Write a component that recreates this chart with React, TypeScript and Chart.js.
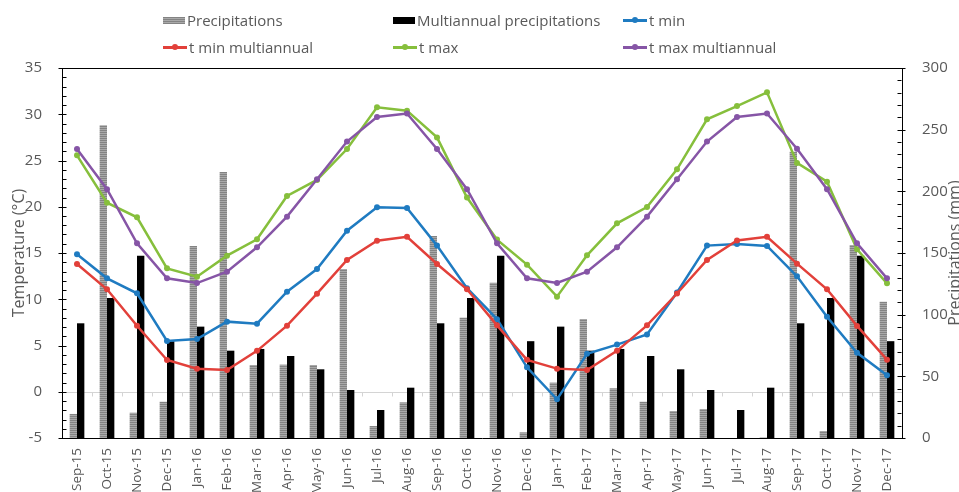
import React, { useEffect, useRef } from "react";
import { Chart, registerables } from "chart.js";

Chart.register(...registerables);

// Months on the category axis
const months = [
  "Sep-15", "Oct-15", "Nov-15", "Dec-15", "Jan-16", "Feb-16", "Mar-16", "Apr-16",
  "May-16", "Jun-16", "Jul-16", "Aug-16", "Sep-16", "Oct-16", "Nov-16", "Dec-16",
  "Jan-17", "Feb-17", "Mar-17", "Apr-17", "May-17", "Jun-17", "Jul-17", "Aug-17",
  "Sep-17", "Oct-17", "Nov-17", "Dec-17",
];

// Monthly precipitation (mm)
const precipitations = [
  19.5, 253.5, 20.5, 29.4, 155.7, 215.7, 59.2, 59.5, 59.2, 137.0, 9.7, 28.9,
  163.8, 97.6, 125.9, 4.6, 44.9, 96.5, 40.3, 29.4, 21.9, 23.5, 0, 0.5,
  232.1, 5.7, 156.5, 110.5,
];

// Long-term monthly precipitation (mm)
const multiannualPrecipitations = [
  93.0, 113.5, 147.7, 78.5, 90.3, 70.8, 72.2, 66.5, 55.7, 38.9, 22.7, 40.8,
  93.0, 113.5, 147.7, 78.5, 90.3, 70.8, 72.2, 66.5, 55.7, 38.9, 22.7, 40.8,
  93.0, 113.5, 147.7, 78.5,
];

// Temperatures (°C)
const tMin = [
  14.86, 12.26, 10.64, 5.49, 5.7, 7.58, 7.36, 10.82, 13.27, 17.41, 19.94, 19.86,
  15.8, 11.2, 7.85, 2.64, -0.82, 4.1, 5.1, 6.2, 10.73, 15.8, 15.97, 15.77,
  12.48, 8.11, 4.22, 1.78,
];

const tMinMultiannual = [
  13.81, 11.08, 7.14, 3.43, 2.48, 2.35, 4.42, 7.14, 10.6, 14.24, 16.33, 16.76,
  13.81, 11.08, 7.18, 3.45, 2.5, 2.35, 4.42, 7.18, 10.62, 14.24, 16.36, 16.76,
  13.85, 11.08, 7.12, 3.47,
];

const tMax = [
  25.56, 20.44, 18.86, 13.34, 12.44, 14.71, 16.48, 21.16, 22.9, 26.24, 30.75, 30.39,
  27.5, 21.0, 16.45, 13.74, 10.28, 14.75, 18.21, 19.97, 24.05, 29.45, 30.89, 32.37,
  24.74, 22.71, 15.4, 11.72,
];

const tMaxMultiannual = [
  26.24, 21.9, 16.05, 12.26, 11.75, 12.98, 15.62, 18.93, 22.97, 27.05, 29.7, 30.08,
  26.24, 21.9, 16.05, 12.26, 11.77, 12.98, 15.62, 18.93, 22.97, 27.05, 29.7, 30.08,
  26.28, 21.9, 16.05, 12.26,
];

const TEXT = "#595959";
const FONT = "'Open Sans'";
const C_BLUE = "#1f7bc1";
const C_RED = "#e2403a";
const C_GREEN = "#86bf3c";
const C_PURPLE = "#8655a6";

const CANVAS_W = 975;
const CANVAS_H = 492;

function stripePattern(ctx: CanvasRenderingContext2D): CanvasPattern | string {
  const c = document.createElement("canvas");
  c.width = 4;
  c.height = 2;
  const p = c.getContext("2d");
  if (!p) return "#999";
  p.fillStyle = "#838383";
  p.fillRect(0, 0, 4, 1);
  p.fillStyle = "#a9a9a9";
  p.fillRect(0, 1, 4, 1);
  return ctx.createPattern(c, "repeat") || "#999";
}

// Axis frame, tick marks, zero line and rotated axis titles
const framePlugin = {
  id: "frame",
  beforeDatasetsDraw(chart: any) {
    const { ctx, chartArea, scales } = chart;
    const y = scales.y;
    const y0 = Math.round(y.getPixelForValue(0)) + 0.5;
    ctx.save();
    ctx.strokeStyle = "#d4d4d4";
    ctx.lineWidth = 1;
    ctx.beginPath();
    ctx.moveTo(chartArea.left, y0);
    ctx.lineTo(chartArea.right, y0);
    const n = chart.data.labels.length;
    const step = (chartArea.right - chartArea.left) / n;
    for (let i = 1; i < n; i++) {
      const xx = Math.round(chartArea.left + i * step) + 0.5;
      ctx.moveTo(xx, y0);
      ctx.lineTo(xx, y0 + 4);
    }
    ctx.stroke();
    ctx.restore();
  },
  afterDraw(chart: any) {
    const { ctx, chartArea, scales } = chart;
    const y = scales.y;
    const y1 = scales.y1;
    const L = Math.round(chartArea.left) + 0.5;
    const R = Math.round(chartArea.right) - 0.5;
    const T = Math.round(chartArea.top) + 0.5;
    ctx.save();
    ctx.strokeStyle = "#000";
    ctx.lineWidth = 1;
    ctx.beginPath();
    ctx.moveTo(L, T);
    ctx.lineTo(R, T);
    for (let v = -5; v <= 35; v += 1) {
      const py = Math.round(y.getPixelForValue(v)) + 0.5;
      const major = v % 5 === 0;
      ctx.moveTo(major ? L - 4 : L, py);
      ctx.lineTo(L + 4, py);
    }
    for (let v = 0; v <= 300; v += 10) {
      const py = Math.round(y1.getPixelForValue(v)) + 0.5;
      const major = v % 50 === 0;
      ctx.moveTo(R - 4, py);
      ctx.lineTo(major ? R + 4 : R, py);
    }
    ctx.stroke();

    const midY = (chartArea.top + chartArea.bottom) / 2;
    ctx.fillStyle = TEXT;
    ctx.font = `16px ${FONT}`;
    ctx.textAlign = "center";
    ctx.textBaseline = "middle";
    ctx.translate(19, midY);
    ctx.rotate(-Math.PI / 2);
    ctx.fillText("Temperature (°C)", 0, 0);
    ctx.setTransform(1, 0, 0, 1, 0, 0);
    ctx.translate(955, midY);
    ctx.rotate(-Math.PI / 2);
    ctx.fillText("Precipitations (mm)", 0, 0);
    ctx.restore();
  },
};

type LegendItem = { label: string; kind: "bar" | "line"; color: string; left: number; top: number };

const legendItems: LegendItem[] = [
  { label: "Precipitations", kind: "bar", color: "pattern", left: 163, top: 20 },
  { label: "Multiannual precipitations", kind: "bar", color: "#000", left: 393, top: 20 },
  { label: "t min", kind: "line", color: C_BLUE, left: 623, top: 20 },
  { label: "t min multiannual", kind: "line", color: C_RED, left: 163, top: 47 },
  { label: "t max", kind: "line", color: C_GREEN, left: 393, top: 47 },
  { label: "t max multiannual", kind: "line", color: C_PURPLE, left: 623, top: 47 },
];

function LegendEntry({ item }: { item: LegendItem }) {
  const icon =
    item.kind === "bar" ? (
      <div
        style={{
          width: 22,
          height: 7,
          background:
            item.color === "pattern"
              ? "repeating-linear-gradient(to bottom, #838383 0px, #838383 1px, #a9a9a9 1px, #a9a9a9 2px)"
              : item.color,
        }}
      />
    ) : (
      <div style={{ position: "relative", width: 24, height: 8 }}>
        <div style={{ position: "absolute", left: 0, top: 3, width: 24, height: 2.5, background: item.color }} />
        <div
          style={{
            position: "absolute",
            left: 9,
            top: 1,
            width: 6,
            height: 6,
            borderRadius: 3,
            background: item.color,
          }}
        />
      </div>
    );
  return (
    <div
      style={{
        position: "absolute",
        left: item.left,
        top: item.top - 10,
        height: 20,
        display: "flex",
        alignItems: "center",
        gap: 2,
        whiteSpace: "nowrap",
        fontFamily: FONT,
        fontSize: 15,
        color: TEXT,
      }}
    >
      {icon}
      <span>{item.label}</span>
    </div>
  );
}

export default function App() {
  const canvasRef = useRef<HTMLCanvasElement | null>(null);

  useEffect(() => {
    const canvas = canvasRef.current;
    if (!canvas) return;
    const ctx = canvas.getContext("2d");
    if (!ctx) return;
    const pattern = stripePattern(ctx);

    const tickFont = { family: FONT, size: 15 };

    const lineSet = (label: string, data: number[], color: string, order: number) => ({
      type: "line",
      label,
      data,
      yAxisID: "y",
      borderColor: color,
      backgroundColor: color,
      borderWidth: 2.5,
      pointRadius: 3,
      pointBackgroundColor: color,
      pointBorderWidth: 0,
      order,
    });

    const chart = new Chart(ctx, {
      type: "bar",
      data: {
        labels: months,
        datasets: [
          lineSet("t min", tMin, C_BLUE, 4),
          lineSet("t min multiannual", tMinMultiannual, C_RED, 3),
          lineSet("t max", tMax, C_GREEN, 2),
          lineSet("t max multiannual", tMaxMultiannual, C_PURPLE, 1),
          {
            type: "bar",
            label: "Precipitations",
            data: precipitations,
            yAxisID: "y1",
            backgroundColor: pattern as any,
            categoryPercentage: 0.49,
            barPercentage: 1,
            order: 5,
          },
          {
            type: "bar",
            label: "Multiannual precipitations",
            data: multiannualPrecipitations,
            yAxisID: "y1",
            backgroundColor: "#000",
            categoryPercentage: 0.49,
            barPercentage: 1,
            order: 6,
          },
        ],
      },
      options: {
        responsive: false,
        animation: false,
        devicePixelRatio: 1,
        layout: { padding: { top: 68, left: 0, right: 0, bottom: 0 } },
        plugins: {
          legend: { display: false },
          tooltip: { enabled: false },
        },
        scales: {
          x: {
            type: "category",
            offset: true,
            grid: { display: false },
            border: { display: true, color: "#000", width: 1 },
            ticks: {
              color: TEXT,
              font: { family: FONT, size: 13.5 },
              minRotation: 90,
              maxRotation: 90,
              autoSkip: false,
              padding: 2,
            },
            afterFit: (s: any) => {
              s.height = CANVAS_H - 438;
            },
          },
          y: {
            position: "left",
            min: -5,
            max: 35,
            grid: { display: false },
            border: { display: true, color: "#000", width: 1 },
            ticks: { stepSize: 5, color: TEXT, font: tickFont, padding: 12 },
            afterFit: (s: any) => {
              s.width = 62;
            },
          },
          y1: {
            position: "right",
            min: 0,
            max: 300,
            grid: { display: false },
            border: { display: true, color: "#000", width: 1 },
            ticks: { stepSize: 50, color: TEXT, font: tickFont, padding: 12 },
            afterFit: (s: any) => {
              s.width = CANVAS_W - 902;
            },
          },
        },
      },
      plugins: [framePlugin],
    } as any);

    return () => chart.destroy();
  }, []);

  return (
    <div
      style={{
        position: "absolute",
        left: 0,
        top: 0,
        width: 959,
        height: 492,
        overflow: "hidden",
        background: "#fff",
      }}
    >
      <canvas
        ref={canvasRef}
        width={CANVAS_W}
        height={CANVAS_H}
        style={{ position: "absolute", left: 0, top: 0, width: CANVAS_W, height: CANVAS_H }}
      />
      {legendItems.map((it) => (
        <LegendEntry key={it.label} item={it} />
      ))}
    </div>
  );
}
